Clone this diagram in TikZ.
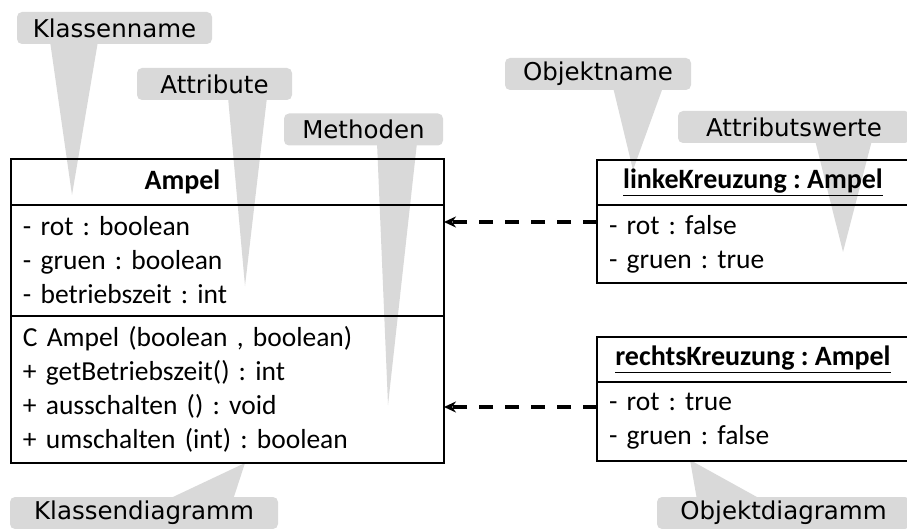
\documentclass[tikz,border=0pt]{standalone}
\usepackage{fontspec}
\setmainfont{Carlito}
\newfontfamily\hinweisfont{DejaVu Sans}
\usetikzlibrary{arrows.meta,positioning}
\definecolor{grau}{RGB}{217,217,217}
\frenchspacing
\tikzset{
  fach/.style={draw, line width=1.4pt, inner xsep=12pt, inner ysep=0pt, outer sep=0pt,
    align=left, font=\fontsize{27.5}{34}\selectfont},
  titel/.style={font=\bfseries\fontsize{28}{34}\selectfont},
  hinweis/.style={fill=grau, rounded corners=5pt, minimum height=32pt, inner sep=0pt,
    font=\hinweisfont\fontsize{24.5}{28}\selectfont},
  abh/.style={-{Stealth[length=12pt,width=11pt]}, line width=3.6pt, dash pattern=on 14pt off 12pt},
}
\begin{document}
\begin{tikzpicture}[x=1pt, y=-1pt]
  \useasboundingbox (0,0) rectangle (907,529);

  %% Hinweise
  \node[hinweis, minimum width=195pt] (hKlassenname) at (114.5,28) {Klassenname};
  \node[hinweis, minimum width=155pt] (hAttribute) at (214.5,84) {Attribute};
  \node[hinweis, minimum width=159pt] (hMethoden) at (363.5,129.5) {Methoden};
  \node[hinweis, minimum width=186pt] (hObjektname) at (598,74) {Objektname};
  \node[hinweis, minimum width=232pt] (hWerte) at (794,127) {Attributswerte};
  \node[hinweis, minimum width=268pt] (hKlassendia) at (144,513) {Klassendiagramm};
  \node[hinweis, minimum width=253pt] (hObjektdia) at (783.5,513) {Objektdiagramm};

  %% Zeiger
  \coordinate (zKlassenname) at (72,195);
  \coordinate (zAttribute) at (245,286);
  \coordinate (zMethoden) at (388,405);
  \coordinate (zObjektname) at (633,170);
  \coordinate (zWerte) at (843,252);
  \coordinate (zKlassendia) at (245,463);
  \coordinate (zObjektdia) at (690,460);

  \fill[grau] ([xshift=-64.5pt, yshift=3pt]hKlassenname.south) -- (zKlassenname) -- ([xshift=-16.5pt, yshift=3pt]hKlassenname.south) -- cycle;
  \fill[grau] ([xshift=13.5pt, yshift=3pt]hAttribute.south) -- (zAttribute) -- ([xshift=52.5pt, yshift=3pt]hAttribute.south) -- cycle;
  \fill[grau] ([xshift=13.5pt, yshift=3pt]hMethoden.south) -- (zMethoden) -- ([xshift=53.5pt, yshift=3pt]hMethoden.south) -- cycle;
  \fill[grau] ([xshift=15pt, yshift=3pt]hObjektname.south) -- (zObjektname) -- ([xshift=65pt, yshift=3pt]hObjektname.south) -- cycle;
  \fill[grau] ([xshift=21pt, yshift=3pt]hWerte.south) -- (zWerte) -- ([xshift=78pt, yshift=3pt]hWerte.south) -- cycle;
  \fill[grau] ([xshift=23pt, yshift=-3pt]hKlassendia.north) -- (zKlassendia) -- ([xshift=89pt, yshift=-3pt]hKlassendia.north) -- cycle;
  \fill[grau] ([xshift=-86.5pt, yshift=-3pt]hObjektdia.north) -- (zObjektdia) -- ([xshift=-21.5pt, yshift=-3pt]hObjektdia.north) -- cycle;

  %% Klasse
  \node[fach, minimum width=433pt, minimum height=46pt] (kName) at (227.5,182) {};
  \node[titel] (kTitel) at ([xshift=-45pt]kName.center) {Ampel};
  \node[fach, minimum width=433pt, text width=409pt, minimum height=111pt, below=0pt of kName] (kAttr)
    {- rot : boolean\\ - gruen : boolean\\ - betriebszeit : int};
  \node[fach, minimum width=433pt, text width=409pt, minimum height=147pt, below=0pt of kAttr] (kMeth)
    {C Ampel (boolean , boolean)\\ + getBetriebszeit() : int\\ + ausschalten () : void\\ + umschalten (int) : boolean};

  %% Objekte
  \node[fach, titel, minimum width=312pt, minimum height=45pt] (o1Name) at (753,182.5) {\underline{linkeKreuzung : Ampel}};
  \node[fach, minimum width=312pt, text width=288pt, minimum height=78pt, below=0pt of o1Name] (o1Attr)
    {- rot : false\\ - gruen : true};
  \node[fach, titel, minimum width=312pt, minimum height=45pt] (o2Name) at (753,359.5) {\underline{rechtsKreuzung : Ampel}};
  \node[fach, minimum width=312pt, text width=288pt, minimum height=79pt, below=0pt of o2Name] (o2Attr)
    {- rot : true\\ - gruen : false};

  %% instanceOf
  \coordinate (a1) at ([yshift=22pt]o1Attr.west);
  \coordinate (a2) at ([yshift=14.5pt]o2Attr.west);
  \draw[abh] (a1) -- (a1 -| kAttr.east);
  \draw[abh] (a2) -- (a2 -| kMeth.east);
\end{tikzpicture}
\end{document}
